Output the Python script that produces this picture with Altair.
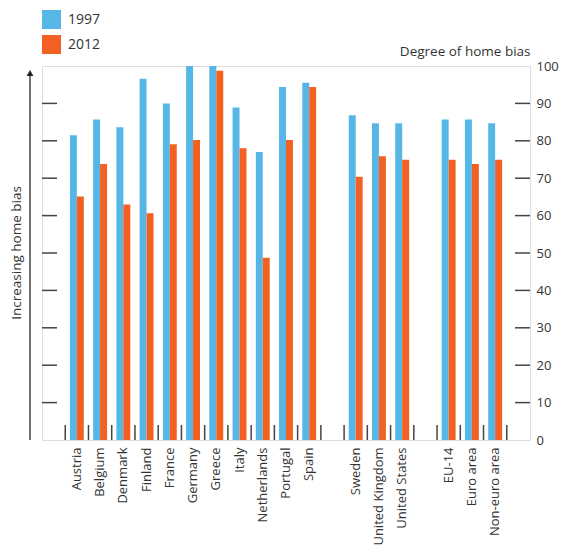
import altair as alt
import pandas as pd

countries = ["Austria", "Belgium", "Denmark", "Finland", "France", "Germany", "Greece",
             "Italy", "Netherlands", "Portugal", "Spain",
             "Sweden", "United Kingdom", "United States",
             "EU-14", "Euro area", "Non-euro area"]
v1997 = [81.5, 85.7, 83.6, 96.6, 90.0, 100, 100, 88.9, 77.0, 94.4, 95.5,
         86.8, 84.7, 84.7, 85.7, 85.7, 84.7]
v2012 = [65.1, 73.8, 63.0, 60.6, 79.1, 80.2, 98.7, 78.0, 48.7, 80.2, 94.4,
         70.4, 75.9, 74.9, 74.9, 73.8, 74.9]
years = ["1997", "2012"]
colors = ["#56B7E6", "#F26122"]
y_ticks = [10, 20, 30, 40, 50, 60, 70, 80, 90]
y_labels = [0, 10, 20, 30, 40, 50, 60, 70, 80, 90, 100]

# category slots including blank gaps
domain = [" "] + countries[:11] + ["  "] + countries[11:14] + ["   "] + countries[14:] + ["    "]
boundaries = domain[1:]

rows = []
for c, a, b in zip(countries, v1997, v2012):
    rows.append({"cat": c, "year": years[0], "value": a})
    rows.append({"cat": c, "year": years[1], "value": b})
df = pd.DataFrame(rows)

FONT = "Open Sans"
TXT = "#333333"
LINE = "#444444"

W, H = 488, 374

def xenc(**kw):
    return alt.X("cat:N", sort=domain,
                 scale=alt.Scale(domain=domain, paddingInner=0, paddingOuter=0),
                 axis=alt.Axis(title=None, labelAngle=-90, ticks=False, domain=False,
                               labelPadding=7, labelFontSize=13, labelFont=FONT,
                               labelColor=TXT, grid=False),
                 **kw)

def yenc():
    return alt.Y("value:Q",
                 scale=alt.Scale(domain=[0, 100], nice=False),
                 axis=alt.Axis(orient="right", values=y_labels, ticks=False, domain=False,
                               grid=False, labelPadding=6, labelFontSize=13, labelFont=FONT,
                               labelColor=TXT, title="Degree of home bias",
                               titleAngle=0, titleX=0, titleY=-8, titleAlign="right",
                               titleBaseline="bottom", titleFontSize=13.5, titleFont=FONT,
                               titleFontWeight="normal", titleColor=TXT))

bars = alt.Chart(df).mark_bar().encode(
    x=xenc(),
    xOffset=alt.XOffset("year:N", scale=alt.Scale(paddingOuter=0.67, paddingInner=0)),
    y=yenc(),
    color=alt.Color("year:N", scale=alt.Scale(domain=years, range=colors),
                    legend=alt.Legend(orient="none", legendX=0, legendY=-56, title=None,
                                      symbolType="square", symbolSize=361,
                                      symbolStrokeWidth=0, labelFontSize=14,
                                      labelFont=FONT, labelColor=TXT, rowPadding=6,
                                      labelOffset=7, padding=0)),
)

xt = alt.Chart(pd.DataFrame({"cat": boundaries})).mark_rule(
    color=LINE, strokeWidth=1.5).encode(
    x=xenc(bandPosition=0),
    y=alt.value(H),
    y2=alt.value(H - 15),
)

tick_df = pd.DataFrame({"value": y_ticks})
yl = alt.Chart(tick_df).mark_rule(color=LINE, strokeWidth=1.5).encode(
    y=yenc(), x=alt.value(0), x2=alt.value(15))
yr = alt.Chart(tick_df).mark_rule(color=LINE, strokeWidth=1.5).encode(
    y=yenc(), x=alt.value(W - 15), x2=alt.value(W))

one = pd.DataFrame({"t": ["Increasing home bias"]})
arrow = alt.Chart(one).mark_rule(color=LINE, strokeWidth=1.5).encode(
    x=alt.value(-12), y=alt.value(H), y2=alt.value(6))
head = alt.Chart(one).mark_point(shape="triangle-up", filled=True, color="#222222",
                                 size=45, opacity=1).encode(
    x=alt.value(-12), y=alt.value(7))
label = alt.Chart(one).mark_text(angle=270, font=FONT, fontSize=13.5, color=TXT,
                                 baseline="middle", align="center").encode(
    x=alt.value(-25), y=alt.value(H / 2), text="t:N")

chart = alt.layer(bars, xt, yl, yr, arrow, head, label).properties(
    width=W, height=H,
    autosize=alt.AutoSizeParams(type="none"),
    padding={"left": 34, "top": 58, "right": 29, "bottom": 110},
).configure_view(stroke=LINE, strokeWidth=2).configure(background="white")

chart.save("out.html", embed_options={"renderer": "svg", "actions": False})
